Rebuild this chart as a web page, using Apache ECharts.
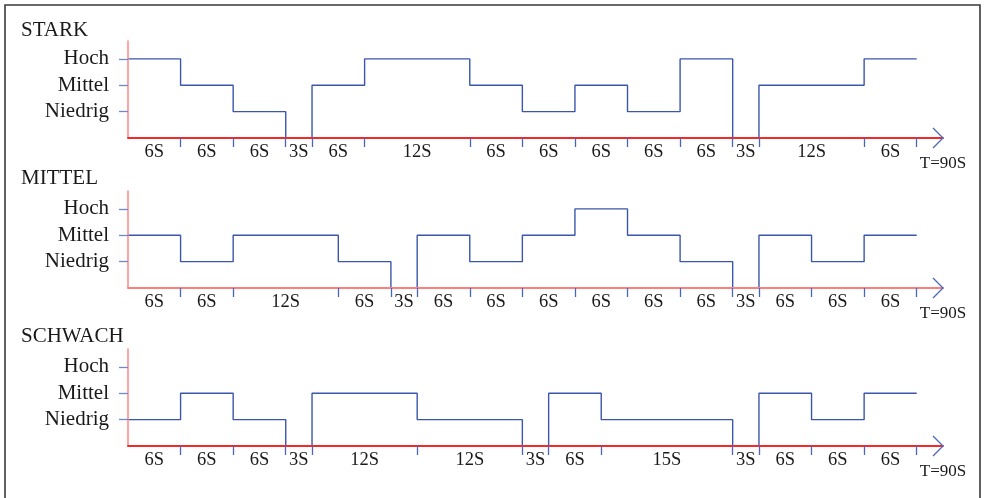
<!DOCTYPE html>
<html>
<head>
<meta charset="utf-8">
<script src="https://cdn.jsdelivr.net/npm/echarts@6/dist/echarts.min.js"></script>
<style>
html,body{margin:0;padding:0;background:#fff;}
#main{width:984px;height:498px;}
</style>
</head>
<body>
<div id="main"></div>
<script>
// ---- data ----
const panelTitles = ['STARK', 'MITTEL', 'SCHWACH'];
const levelNames = ['Niedrig', 'Mittel', 'Hoch']; // values 1,2,3 (0 = pause on axis)
const totalLabel = 'T=90S';

const starkDurations = [6, 6, 6, 3, 6, 12, 6, 6, 6, 6, 6, 3, 12, 6];
const starkLevels    = [3, 2, 1, 0, 2, 3, 2, 1, 2, 1, 3, 0, 2, 3];

const mittelDurations = [6, 6, 12, 6, 3, 6, 6, 6, 6, 6, 6, 3, 6, 6, 6];
const mittelLevels    = [2, 1, 2, 1, 0, 2, 1, 2, 3, 2, 1, 0, 2, 1, 2];

const schwachDurations = [6, 6, 6, 3, 12, 12, 3, 6, 15, 3, 6, 6, 6];
const schwachLevels    = [1, 2, 1, 0, 2, 1, 0, 2, 1, 0, 2, 1, 2];

const panels = [
  { durations: starkDurations, levels: starkLevels },
  { durations: mittelDurations, levels: mittelLevels },
  { durations: schwachDurations, levels: schwachLevels }
];

// ---- layout / style ----
const gridTops = [41, 191, 349];
const gridHeight = 97;
const gridLeft = 128;
const gridRight = 41;
const xMax = 93;
const yMax = 3.68;
const serif = '"Liberation Serif", "Times New Roman", serif';
const blue = '#3a56ad';
const tickBlue = '#4a66bb';
const xAxisReds = ['#f42a2a', '#ff7f7f', '#f42a2a'];
const yAxisRed = '#ff8585';

function buildPanel(p) {
  const bounds = [0];
  p.durations.forEach(d => bounds.push(bounds[bounds.length - 1] + d));
  const pts = p.levels.map((lv, i) => [bounds[i], lv]);
  pts.push([bounds[bounds.length - 1], p.levels[p.levels.length - 1]]);
  const mids = [];
  const midLabel = {};
  p.durations.forEach((d, i) => {
    const m = (bounds[i] + bounds[i + 1]) / 2;
    mids.push(m);
    midLabel[String(m)] = d + 'S';
  });
  return { bounds, pts, mids, midLabel };
}

const built = panels.map(buildPanel);

const option = {
  animation: false,
  backgroundColor: '#fff',
  title: panelTitles.map((t, i) => ({
    text: t,
    left: 21,
    top: [20, 168, 326][i],
    padding: 0,
    textStyle: { fontFamily: serif, fontSize: 21, fontWeight: 'normal', color: '#1a1a1a' }
  })),
  grid: gridTops.map(t => ({ left: gridLeft, right: gridRight, top: t, height: gridHeight })),
  xAxis: built.map((b, i) => ({
    type: 'value',
    gridIndex: i,
    min: 0,
    max: xMax,
    z: 5,
    splitLine: { show: false },
    axisLine: { show: true, onZero: false, lineStyle: { color: xAxisReds[i], width: 1.8 } },
    axisTick: {
      show: true,
      customValues: b.bounds.slice(1),
      length: 9,
      lineStyle: { color: tickBlue, width: 1.3 }
    },
    axisLabel: {
      show: true,
      customValues: b.mids,
      margin: 5,
      fontFamily: serif,
      fontSize: 18.5,
      color: '#1a1a1a',
      formatter: v => b.midLabel[String(v)] || ''
    }
  })),
  yAxis: built.map((b, i) => ({
    type: 'value',
    gridIndex: i,
    min: 0,
    max: yMax,
    z: 4,
    splitLine: { show: false },
    axisLine: { show: true, onZero: false, lineStyle: { color: yAxisRed, width: 1.5 } },
    axisTick: {
      show: true,
      customValues: [1, 2, 3],
      length: 9,
      lineStyle: { color: '#6f88cc', width: 1.3 }
    },
    axisLabel: {
      show: true,
      customValues: [1, 2, 3],
      margin: 19,
      fontFamily: serif,
      fontSize: 21,
      color: '#1a1a1a',
      formatter: v => levelNames[Math.round(v) - 1] || ''
    }
  })),
  series: built.map((b, i) => ({
    type: 'line',
    xAxisIndex: i,
    yAxisIndex: i,
    step: 'end',
    symbol: 'none',
    silent: true,
    z: 2,
    lineStyle: { color: blue, width: 1.4 },
    data: b.pts
  }))
};

const chart = echarts.init(document.getElementById('main'), null, { renderer: 'canvas' });
chart.setOption(option);

// decorations: open arrowheads, total-time labels, frame
const graphics = [{
  type: 'rect',
  shape: { x: 5, y: 5, width: 975, height: 600 },
  style: { fill: 'none', stroke: '#3a3a3a', lineWidth: 1.6 },
  z: 10
}];
built.forEach((b, i) => {
  const tip = chart.convertToPixel({ gridIndex: i }, [xMax, 0]);
  graphics.push({
    type: 'polyline',
    shape: { points: [[tip[0] - 10, tip[1] - 10], [tip[0], tip[1]], [tip[0] - 10, tip[1] + 10]] },
    style: { fill: 'none', stroke: tickBlue, lineWidth: 1.3 },
    z: 10
  });
  graphics.push({
    type: 'text',
    x: tip[0],
    y: tip[1] + 26,
    style: {
      text: totalLabel,
      fontFamily: serif,
      fontSize: 17,
      fill: '#1a1a1a',
      align: 'center',
      verticalAlign: 'middle'
    },
    z: 10
  });
});
chart.setOption({ graphic: graphics });
</script>
</body>
</html>
